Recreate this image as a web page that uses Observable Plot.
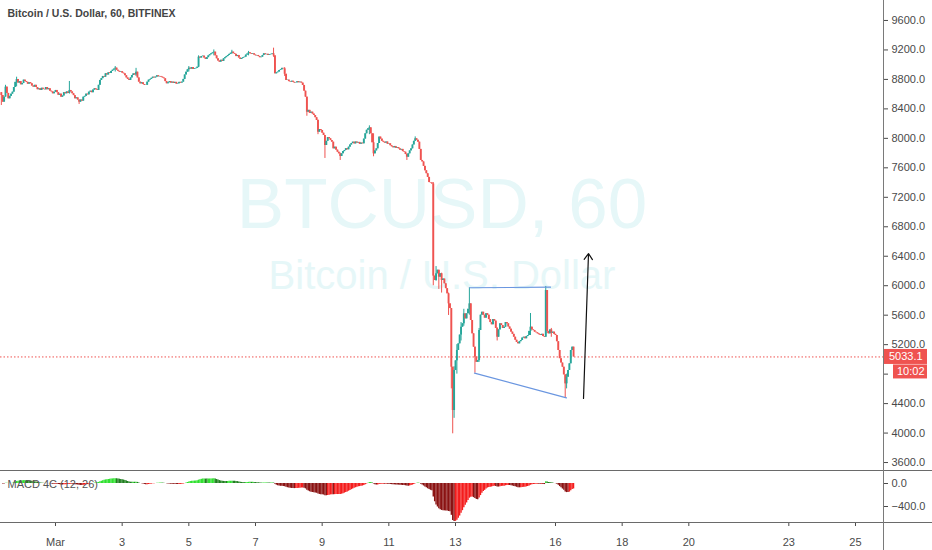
<!DOCTYPE html>
<html><head><meta charset="utf-8">
<script src="https://cdn.jsdelivr.net/npm/d3@7"></script>
<script src="https://cdn.jsdelivr.net/npm/@observablehq/plot@0.6"></script>
<style>
html,body{margin:0;padding:0;background:#fff;}
#chart svg{display:block;}
</style></head><body><div id="chart"></div>
<script>
// ---------- data ----------
const title = "Bitcoin / U.S. Dollar, 60, BITFINEX";
const watermarkSymbol = "BTCUSD, 60";
const watermarkName = "Bitcoin / U.S. Dollar";
const macdLabel = "MACD 4C (12, 26)";
const countdown = "10:02";
const firstCandleUTC = Date.UTC(2020, 1, 28, 9); // hourly candles from here (2020 is a leap year)
const firstOpen = 8620;
const closes = [
 8582,8491,8560,8695,8610,8537,8570,8600,8627,8690,8760,8799,8750,8770,8727,8745,8790,8772,8760,8735,8755,8741,8710,8695,
 8720,8690,8660,8673,8650,8680,8665,8659,8690,8660,8673,8640,8630,8605,8625,8650,8620,8585,8600,8559,8575,8620,8605,8630,
 8610,8650,8630,8605,8580,8537,8550,8520,8491,8520,8505,8559,8570,8600,8590,8627,8640,8620,8655,8673,8660,8650,8720,8786,
 8810,8840,8830,8876,8860,8890,8880,8908,8925,8940,8953,8925,8910,8898,8905,8885,8876,8850,8820,8800,8786,8820,8853,8875,
 8860,8898,8820,8763,8740,8755,8730,8718,8720,8763,8790,8800,8815,8830,8820,8831,8850,8835,8840,8831,8820,8809,8770,8741,
 8755,8770,8750,8763,8745,8760,8735,8741,8760,8750,8763,8800,8860,8898,8930,8953,8940,8960,8935,8944,8950,8966,9102,9090,
 9110,9116,9090,9071,9095,9120,9135,9148,9160,9170,9120,9080,9050,9034,9060,9045,9080,9095,9110,9125,9140,9155,9170,9150,
 9140,9110,9125,9090,9071,9085,9095,9102,9130,9145,9162,9150,9140,9148,9130,9120,9125,9110,9095,9102,9125,9148,9135,9140,
 9125,9134,9140,9148,9120,8876,8890,8900,8921,8930,8950,8944,8870,8786,8790,8770,8763,8775,8760,8750,8754,8770,8755,8763,
 8750,8718,8640,8559,8355,8380,8340,8355,8330,8310,8280,8243,8084,8120,8107,8070,8039,7903,7960,8010,7994,7970,7948,7858,
 7880,7840,7812,7790,7754,7790,7820,7835,7860,7845,7880,7910,7930,7948,7925,7950,7935,7945,7920,7935,7926,7990,8062,8110,
 8130,8143,8062,7940,7790,7830,7858,7930,8017,7990,7960,7948,7935,7950,7920,7926,7900,7885,7872,7890,7865,7875,7858,7840,
 7850,7820,7812,7780,7744,7790,7830,7858,7910,7960,7994,7975,7948,7850,7700,7680,7620,7560,7520,7470,7400,7395,7380,6130,
 6071,6162,6210,6116,6162,6071,6090,6026,5960,5890,5754,5690,4894,4306,4849,4980,5121,5211,5330,5437,5483,5618,5550,5618,
 5680,5754,5528,5347,5166,5030,4960,4985,5392,5600,5640,5600,5560,5620,5600,5540,5500,5470,5540,5520,5420,5301,5400,5483,
 5460,5420,5437,5500,5483,5440,5410,5370,5340,5301,5260,5230,5211,5240,5256,5290,5301,5280,5310,5324,5380,5437,5400,5390,
 5370,5360,5347,5335,5324,5340,5310,5301,5935,5380,5347,5400,5355,5370,5340,5324,5240,5121,5010,4950,4894,4790,4668,4758,
 4850,4940,5121,5166,5033.1
];
// [candle index, high, low] for visible wicks
const wicks = [
 [0,8600,8446],[3,8720,8620],[11,8830,8700],[49,8772,8600],[56,8520,8460],[82,8975,8900],
 [97,8950,8840],[135,8975,8900],[142,9120,8960],[153,9200,9120],[166,9195,9140],[178,9180,9120],
 [196,9224,9100],[204,8960,8840],[220,8560,8300],[228,8250,8050],[233,8040,7727],[244,7800,7700],
 [265,8170,8050],[268,8062,7750],[292,7790,7700],[298,8020,7960],[311,7400,6000],[313,6260,6060],
 [315,6210,5950],[317,6170,5900],[322,5900,5596],[324,5690,4600],[325,4894,3990],[326,4900,4200],
 [328,5200,4800],[331,5500,5250],[333,5680,5450],[337,5971,5600],[341,5166,4813],[344,5420,4960],
 [357,5430,5250],[381,5623,5324],[392,5990,5300],[393,5935,5350],[396,5420,5300],[406,4790,4478],[407,4800,4600]
];
const lastPrice = 5033.1;
const priceTicks = [3600,4000,4400,4800,5200,5600,6000,6400,6800,7200,7600,8000,8400,8800,9200,9600];
const hiddenTickLabels = [4800]; // covered by the price tags
const macdTicks = [0, -400];
const tickDays = [1,3,5,7,9,11,13,16,18,20,23,25];
const tickLabels = ["Mar","3","5","7","9","11","13","16","18","20","23","25"];
// drawings: [time, price]
const trendTop = [["2020-03-13T10:05Z", 5972], ["2020-03-15T20:24Z", 5980]];
const trendBottom = [["2020-03-13T13:41Z", 4813], ["2020-03-16T07:55Z", 4478]];
const arrowPts = [["2020-03-16T20:10Z", 4469], ["2020-03-16T23:46Z", 6437]];
const xDomain = [new Date("2020-02-28T08:24Z"), new Date("2020-03-25T20:10Z")];
const priceDomain = [3492, 9871];
const macdDomain = [-678, 226];

// ---------- build ----------
const FONT = "'Liberation Sans', Arial, sans-serif";
const UP = "#26a69a", DN = "#ef5350", WM = "#e6f7f8", AX = "#4a4a4a", BLUE = "#6a96e0";
const HOUR = 3600e3;
const candles = closes.map((c, i) => {
  const o = i === 0 ? firstOpen : closes[i - 1];
  return {t: new Date(firstCandleUTC + i * HOUR), o, c, hi: Math.max(o, c), lo: Math.min(o, c)};
});
for (const [i, hi, lo] of wicks) {
  candles[i].hi = Math.max(candles[i].hi, hi);
  candles[i].lo = Math.min(candles[i].lo, lo);
}
candles.forEach(d => d.col = d.c >= d.o ? UP : DN);

function ema(arr, n) { const a = 2 / (n + 1); let e = arr[0]; return arr.map(v => (e = a * v + (1 - a) * e)); }
const e12 = ema(closes, 12), e26 = ema(closes, 26);
const macd = closes.map((c, i) => ({t: candles[i].t, m: e12[i] - e26[i]}));
macd.forEach((d, i) => {
  const p = i ? macd[i - 1].m : d.m;
  d.col = d.m > 0 ? (d.m > p ? "#2fe02f" : "#1f7f1f") : (d.m < p ? "#8a1212" : "#f41c1c");
});

const pt = d => ({x: new Date(d[0]), y: d[1]});
const tickDates = tickDays.map(d => new Date(Date.UTC(2020, 2, d)));
const labelOf = new Map(tickDates.map((d, i) => [+d, tickLabels[i]]));
const fmt1 = d3.format(".1f");

const main = Plot.plot({
  width: 932, height: 470, marginTop: 0, marginBottom: 0, marginLeft: 0, marginRight: 49,
  style: {fontFamily: FONT, background: "#fff", overflow: "visible"},
  x: {type: "utc", domain: xDomain, axis: null},
  y: {domain: priceDomain, axis: null},
  marks: [
    Plot.text([watermarkSymbol], {frameAnchor: "middle", dy: -30, fontSize: 71, fill: WM}),
    Plot.text([watermarkName], {frameAnchor: "middle", dy: 41, fontSize: 40, fill: WM}),
    Plot.ruleY([lastPrice], {stroke: DN, strokeDasharray: "1.5,2", strokeWidth: 1}),
    Plot.ruleX(candles, {x: "t", y1: "lo", y2: "hi", stroke: "col", strokeWidth: 1}),
    Plot.ruleX(candles, {x: "t", y1: "o", y2: "c", stroke: "col", strokeWidth: 1.9}),
    Plot.line(trendTop.map(pt), {x: "x", y: "y", stroke: BLUE, strokeWidth: 1.2}),
    Plot.line(trendBottom.map(pt), {x: "x", y: "y", stroke: BLUE, strokeWidth: 1.2}),
    Plot.arrow([{a: pt(arrowPts[0]), b: pt(arrowPts[1])}], {
      x1: d => d.a.x, y1: d => d.a.y, x2: d => d.b.x, y2: d => d.b.y,
      stroke: "#111", strokeWidth: 1.2, headLength: 9, headAngle: 70
    }),
    Plot.axisY({anchor: "right", ticks: priceTicks, tickFormat: d => hiddenTickLabels.includes(d) ? "" : fmt1(d),
      tickSize: 4, tickPadding: 4, fontSize: 11, color: AX, label: null}),
    Plot.text([title], {frameAnchor: "top-left", dx: 7, dy: 13, lineAnchor: "middle", fontSize: 10.5,
      fontWeight: 600, fill: "#444"})
  ]
});

const lower = Plot.plot({
  width: 932, height: 80, marginTop: 0, marginBottom: 28, marginLeft: 0, marginRight: 49,
  style: {fontFamily: FONT, background: "#fff", overflow: "visible"},
  x: {type: "utc", domain: xDomain, axis: null},
  y: {domain: macdDomain, axis: null},
  marks: [
    Plot.ruleX(macd, {x: "t", y1: 0, y2: "m", stroke: "col", strokeWidth: 1.4, clip: true}),
    Plot.text([macdLabel], {frameAnchor: "top-left", dx: 7, dy: 14, lineAnchor: "middle", fontSize: 11, fill: "#555"}),
    Plot.axisY({anchor: "right", ticks: macdTicks, tickFormat: fmt1, tickSize: 4, tickPadding: 4,
      fontSize: 11, color: AX, label: null}),
    Plot.axisX({anchor: "bottom", ticks: tickDates, tickFormat: d => labelOf.get(+d), tickSize: 4, tickPadding: 12,
      fontSize: 11, color: AX, label: null})
  ]
});

const root = document.getElementById("chart");
root.append(main, lower);

// frame lines and price tags, positioned through the plots' scales
const xs = main.scale("x"), ys = main.scale("y");
const xr = xs.apply(xDomain[1]);
const gm = d3.select(main);
gm.append("line").attr("x1", xr + 0.5).attr("x2", xr + 0.5).attr("y1", 0).attr("y2", 470).attr("stroke", "#7a7a7a");
const yp = ys.apply(lastPrice);
gm.append("rect").attr("x", xr + 1).attr("y", yp - 7.5).attr("width", 43).attr("height", 15).attr("fill", DN);
gm.append("text").attr("x", xr + 6).attr("y", yp + 4).attr("text-anchor", "start").attr("fill", "#fff")
  .attr("font-size", 11).attr("font-family", FONT).text(fmt1(lastPrice));
gm.append("rect").attr("x", xr + 10).attr("y", yp + 8).attr("width", 34).attr("height", 14).attr("fill", DN);
gm.append("text").attr("x", xr + 14).attr("y", yp + 19).attr("text-anchor", "start").attr("fill", "#fff")
  .attr("font-size", 11).attr("font-family", FONT).text(countdown);

const gl = d3.select(lower);
const ly = lower.scale("y");
const yb = ly.apply(macdDomain[0]);
gl.append("line").attr("x1", 0).attr("x2", 932).attr("y1", 0.5).attr("y2", 0.5).attr("stroke", "#6a6a6a");
gl.append("line").attr("x1", 0).attr("x2", 932).attr("y1", yb + 0.5).attr("y2", yb + 0.5).attr("stroke", "#6a6a6a");
gl.append("line").attr("x1", xr + 0.5).attr("x2", xr + 0.5).attr("y1", 0).attr("y2", 80).attr("stroke", "#7a7a7a");
</script>
</body></html>
